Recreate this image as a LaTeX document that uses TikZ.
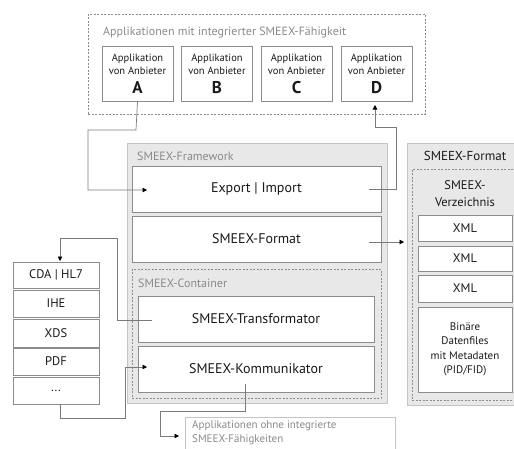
\documentclass[tikz,border=0pt]{standalone}
\usepackage{fontspec}
\setmainfont{PT Sans}
\usetikzlibrary{arrows.meta}
\definecolor{gfill}{HTML}{E8E8E8}
\definecolor{gline}{HTML}{C4C4C4}
\definecolor{bline}{HTML}{8C8C8C}
\definecolor{ttxt}{HTML}{8A8A8A}
\definecolor{mtxt}{HTML}{1A1A1A}
\definecolor{cline}{HTML}{7A7A7A}
\tikzset{
  wbox/.style={draw=bline, fill=white, line width=0.7pt, inner sep=0pt, text=mtxt, align=center},
  gbox/.style={draw=gline, fill=gfill, line width=0.8pt, inner sep=0pt},
  dbox/.style={draw=bline, dashed, dash pattern=on 2pt off 1.5pt, line width=0.6pt, inner sep=0pt},
  ttl/.style={text=ttxt, inner sep=0pt, anchor=west, font=\fontsize{12}{13}\selectfont},
  conn/.style={draw=cline, line width=0.7pt, -{Triangle[length=4.5pt,width=4.5pt,fill=black,color=black]}},
  appbox/.style={wbox, minimum width=71pt, minimum height=55pt, font=\fontsize{10.5}{13.5}\selectfont},
  bigbox/.style={wbox, minimum width=249pt, minimum height=46pt, font=\fontsize{14}{15}\selectfont},
  innbox/.style={wbox, minimum width=236pt, minimum height=46pt, font=\fontsize{14}{15}\selectfont},
  lbox/.style={wbox, minimum width=86pt, font=\fontsize{12.5}{13}\selectfont},
  xbox/.style={wbox, minimum width=94pt, font=\fontsize{12.5}{14}\selectfont},
}
\newcommand{\bigletter}[1]{{\fontsize{17}{17}\selectfont\bfseries #1}}
\begin{document}
\begin{tikzpicture}[x=1pt,y=-1pt]
\useasboundingbox (0,0) rectangle (514,448);
\begin{scope}
\clip (0,0) rectangle (514,448);
% top dashed
\node[dbox, minimum width=337pt, minimum height=100pt] (top) at (256.5,64) {};
\node[ttl] (toptitle) at (103,32) {Applikationen mit integrierter SMEEX-Fähigkeit};
\node[appbox] (A) at (137.5,73.5) {Applikation\\von Anbieter\\[5pt]\bigletter{A}};
\node[appbox] (B) at (217,73.5) {Applikation\\von Anbieter\\[5pt]\bigletter{B}};
\node[appbox] (C) at (296.5,73.5) {Applikation\\von Anbieter\\[5pt]\bigletter{C}};
\node[appbox] (D) at (376.5,73.5) {Applikation\\von Anbieter\\[5pt]\bigletter{D}};
% framework
\node[gbox, minimum width=260pt, minimum height=260pt] (fw) at (257,273) {};
\node[ttl] (fwtitle) at (137,156) {SMEEX-Framework};
\node[bigbox] (exp) at (256.5,189) {Export | Import};
\node[bigbox] (fmt) at (256.5,239) {SMEEX-Format};
\node[dbox, minimum width=249pt, minimum height=129pt] (cont) at (256.5,333.5) {};
\node[ttl] (conttitle) at (138,283) {SMEEX-Container};
\node[innbox] (trans) at (256,319) {SMEEX-Transformator};
\node[innbox] (komm) at (256,369) {SMEEX-Kommunikator};
% ohne box
\node[draw=gline, line width=0.8pt, fill=white, minimum width=210pt, minimum height=40pt, inner sep=0pt] (ohne) at (290,437) {};
\node[ttl, align=left, font=\fontsize{11}{14}\selectfont, anchor=north west] (ohnetxt) at (192,420) {Applikationen ohne integrierte\\SMEEX-Fähigkeiten};
% right format
\node[gbox, minimum width=115pt, minimum height=262pt] (rf) at (464.5,274) {};
\node[text=mtxt, inner sep=0pt, font=\fontsize{13}{14}\selectfont] (rftitle) at (465,156) {SMEEX-Format};
\node[dbox, minimum width=110pt, minimum height=231pt] (rfd) at (467,284.5) {};
\node[text=mtxt, inner sep=0pt, align=center, font=\fontsize{12.5}{17}\selectfont] (verz) at (465,194) {SMEEX-\\Verzeichnis};
\node[xbox, minimum height=26pt] (x1) at (465,228) {XML};
\node[xbox, minimum height=25pt] (x2) at (465,258.5) {XML};
\node[xbox, minimum height=27pt] (x3) at (465,288.5) {XML};
\node[xbox, minimum height=85pt, font=\fontsize{11}{14.5}\selectfont] (bin) at (465,349.5) {Binäre\\Datenfiles\\mit Metadaten\\(PID/FID)};
% left column
\node[lbox, minimum height=26pt] (cda) at (56,275) {CDA | HL7};
\node[lbox, minimum height=27pt] (ihe) at (56,303.5) {IHE};
\node[lbox, minimum height=28pt] (xds) at (56,333) {XDS};
\node[lbox, minimum height=27pt] (pdf) at (56,361.5) {PDF};
\node[lbox, minimum height=27pt] (dots) at (56,390.5) {...};
% connector coordinates
\coordinate (expIn) at (147,190);
\coordinate (expOut) at (369,189);
\coordinate (Din) at (375,105);
\coordinate (fmtOut) at (369,242);
\coordinate (rfIn) at (404,242);
\coordinate (transOut) at (152,320);
\coordinate (cdaIn) at (60,261);
\coordinate (dotsOut) at (60,404);
\coordinate (kommIn) at (147,367);
\coordinate (kommOut) at (245,384);
\coordinate (ohneIn) at (179,436);
% connectors
\draw[conn] (A.south) -- (136,130) -- (88,130) -- (88,190) -- (expIn);
\draw[conn] (expOut) -- (396,189) -- (396,127) -- (375,127) -- (Din);
\draw[conn] (fmtOut) -- (rfIn);
\draw[conn] (transOut) -- (117,320) -- (117,238) -- (60,238) -- (cdaIn);
\draw[conn] (dotsOut) -- (60,418) -- (125,418) -- (125,367) -- (kommIn);
\draw[conn] (kommOut) -- (245,411) -- (160,411) -- (160,436) -- (ohneIn);
\end{scope}
\end{tikzpicture}
\end{document}
